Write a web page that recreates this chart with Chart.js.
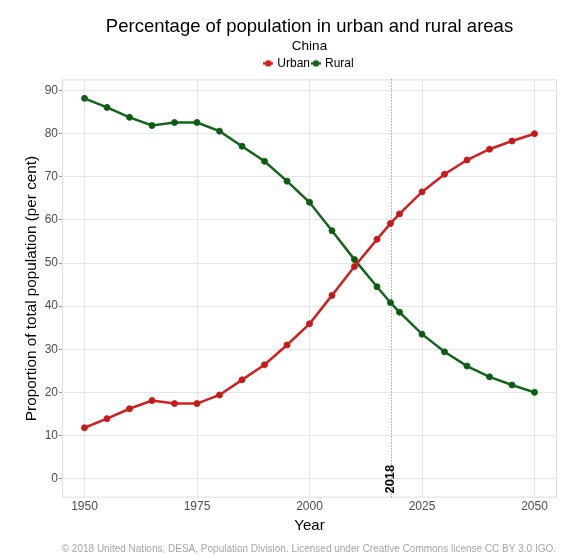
<!DOCTYPE html>
<html>
<head>
<meta charset="utf-8">
<script src="https://cdn.jsdelivr.net/npm/chart.js@4"></script>
<style>
  html, body { margin: 0; padding: 0; background: #fff; }
  #wrap { width: 580px; height: 557px; }
</style>
</head>
<body>
<div id="wrap"><canvas id="urbanChart"></canvas></div>
<script>
// China, share of population in urban / rural areas (per cent)
const years = [1950, 1955, 1960, 1965, 1970, 1975, 1980, 1985, 1990, 1995, 2000,
               2005, 2010, 2015, 2018, 2020, 2025, 2030, 2035, 2040, 2045, 2050];
const urban = [11.8, 13.9, 16.2, 18.1, 17.4, 17.4, 19.4, 22.9, 26.4, 31.0, 35.9,
               42.5, 49.2, 55.5, 59.2, 61.4, 66.5, 70.6, 73.9, 76.4, 78.3, 80.0];
const rural = [88.2, 86.1, 83.8, 81.9, 82.6, 82.6, 80.6, 77.1, 73.6, 69.0, 64.1,
               57.5, 50.8, 44.5, 40.8, 38.6, 33.5, 29.4, 26.1, 23.6, 21.7, 20.0];
const xTicks = [1950, 1975, 2000, 2025, 2050];
const yTicks = [0, 10, 20, 30, 40, 50, 60, 70, 80, 90];
const markYear = 2018;

const font = 'Liberation Sans, Arial, sans-serif';
const urbanColor = '#d21f1f';
const ruralColor = '#12661a';

function pts(vals) {
  return years.map((y, i) => ({ x: y, y: vals[i] }));
}

// little "line + dot" key like the ggplot legend
function keyGlyph(color) {
  const c = document.createElement('canvas');
  c.width = 10; c.height = 8;
  const g = c.getContext('2d');
  g.strokeStyle = color;
  g.lineWidth = 2.5;
  g.beginPath(); g.moveTo(0, 4); g.lineTo(10, 4); g.stroke();
  g.fillStyle = color;
  g.beginPath(); g.arc(5, 4, 3.2, 0, Math.PI * 2); g.fill();
  return c;
}

// dotted line at the reference year + credit line
const extras = {
  id: 'extras',
  beforeDatasetsDraw(chart) {
    const { ctx, chartArea, scales } = chart;
    const x = Math.round(scales.x.getPixelForValue(markYear)) + 0.5;
    ctx.save();
    ctx.strokeStyle = '#777';
    ctx.lineWidth = 1;
    ctx.setLineDash([1, 2]);
    ctx.beginPath();
    ctx.moveTo(x, chartArea.top);
    ctx.lineTo(x, chartArea.bottom);
    ctx.stroke();
    ctx.restore();
  },
  afterDraw(chart) {
    const { ctx, chartArea, scales } = chart;
    const x = scales.x.getPixelForValue(markYear);
    ctx.save();
    ctx.translate(x, chartArea.bottom - 4);
    ctx.rotate(-Math.PI / 2);
    ctx.fillStyle = '#000';
    ctx.font = 'bold 13px ' + font;
    ctx.textAlign = 'left';
    ctx.textBaseline = 'middle';
    ctx.fillText(String(markYear), 0, 0);
    ctx.restore();

    ctx.save();
    ctx.fillStyle = '#a6a6a6';
    ctx.font = '10px ' + font;
    ctx.textAlign = 'right';
    ctx.textBaseline = 'middle';
    ctx.fillText('\u00a9 2018 United Nations, DESA, Population Division. Licensed under Creative Commons license CC BY 3.0 IGO.',
      chartArea.right - 1, 549);
    ctx.restore();
  }
};

// panel border
const panel = {
  id: 'panel',
  beforeDraw(chart) {
    const { ctx, chartArea } = chart;
    ctx.save();
    ctx.strokeStyle = '#dcdcdc';
    ctx.lineWidth = 1;
    ctx.strokeRect(chartArea.left + 0.5, chartArea.top + 0.5,
      chartArea.width - 1, chartArea.height - 1);
    ctx.restore();
  }
};

new Chart(document.getElementById('urbanChart'), {
  type: 'line',
  data: {
    datasets: [
      {
        label: 'Urban',
        data: pts(urban),
        borderColor: urbanColor,
        backgroundColor: '#c11a1a',
        borderWidth: 2.5,
        pointRadius: 3,
        pointBorderWidth: 1,
        tension: 0
      },
      {
        label: 'Rural',
        data: pts(rural),
        borderColor: ruralColor,
        backgroundColor: '#0e5a14',
        borderWidth: 2.5,
        pointRadius: 3,
        pointBorderWidth: 1,
        tension: 0
      }
    ]
  },
  plugins: [panel, extras],
  options: {
    responsive: true,
    maintainAspectRatio: false,
    animation: false,
    layout: { padding: { top: 0, right: 23, bottom: 22, left: 0 } },
    plugins: {
      title: {
        display: true,
        text: 'Percentage of population in urban and rural areas',
        color: '#000',
        fullSize: false,
        font: { family: font, size: 18.5, weight: 'normal' },
        padding: { top: 16, bottom: 0 }
      },
      subtitle: {
        display: true,
        text: 'China',
        color: '#000',
        fullSize: false,
        font: { family: font, size: 13.5, weight: 'normal' },
        padding: { top: 0, bottom: 0 }
      },
      legend: {
        display: true,
        fullSize: false,
        labels: {
          color: '#000',
          font: { family: font, size: 12 },
          usePointStyle: true,
          pointStyleWidth: 6,
          boxHeight: 8,
          padding: 3,
          generateLabels(chart) {
            const items = Chart.defaults.plugins.legend.labels.generateLabels(chart);
            items.forEach((it, i) => {
              it.pointStyle = keyGlyph(chart.data.datasets[i].borderColor);
            });
            return items;
          }
        }
      },
      tooltip: { enabled: false }
    },
    scales: {
      x: {
        type: 'linear',
        min: 1945,
        max: 2055,
        afterBuildTicks: (s) => { s.ticks = xTicks.map(v => ({ value: v })); },
        grid: { color: '#e6e6e6', drawTicks: false },
        border: { display: false },
        ticks: {
          color: '#4d4d4d',
          font: { family: font, size: 12 },
          padding: 2,
          maxRotation: 0,
          callback: (v) => String(v)
        },
        title: {
          display: true,
          text: 'Year',
          color: '#000',
          font: { family: font, size: 15 },
          padding: { top: 1, bottom: 0 }
        }
      },
      y: {
        type: 'linear',
        min: -4.41,
        max: 92.6,
        afterBuildTicks: (s) => { s.ticks = yTicks.map(v => ({ value: v })); },
        afterFit: (s) => { s.width = 62; },
        grid: { color: '#e6e6e6', tickColor: '#999', tickLength: 3, drawTicks: true },
        border: { display: false },
        ticks: {
          color: '#4d4d4d',
          font: { family: font, size: 12 },
          padding: 1,
          callback: (v) => String(v)
        },
        title: {
          display: true,
          text: 'Proportion of total population (per cent)',
          color: '#000',
          font: { family: font, size: 15.3 },
          padding: { top: 23, bottom: 0 }
        }
      }
    }
  }
});
</script>
</body>
</html>
